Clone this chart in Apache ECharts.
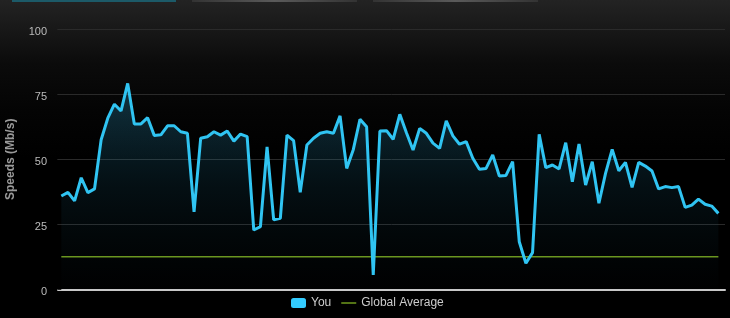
<!DOCTYPE html>
<html><head><meta charset="utf-8">
<script src="https://cdn.jsdelivr.net/npm/echarts@6/dist/echarts.min.js"></script>
<style>html,body{margin:0;padding:0;background:#000}#c{width:730px;height:318px}</style>
</head><body><div id="c"></div>
<script>
const yTicks = [0, 25, 50, 75, 100];
const yourSpeeds = [
  35.9, 37.3, 34.0, 42.9, 37.2, 38.6, 57.5, 65.8, 71.2, 68.6,
  79.2, 63.6, 63.6, 66.0, 59.2, 59.4, 62.9, 62.9, 60.6, 60.0,
  29.8, 58.1, 58.7, 60.6, 59.3, 60.9, 57.0, 59.7, 58.7, 22.8,
  24.1, 54.8, 26.7, 27.3, 59.3, 57.2, 37.3, 55.5, 58.1, 60.0,
  60.6, 60.0, 66.7, 46.5, 53.8, 65.4, 62.5, 5.5, 60.9, 61.0,
  57.7, 67.3, 60.2, 53.6, 61.9, 60.0, 56.2, 54.2, 64.8, 59.0,
  55.8, 56.8, 50.4, 46.2, 46.5, 51.7, 43.6, 43.8, 49.1, 18.3,
  10.0, 14.1, 59.6, 46.8, 47.8, 46.3, 56.4, 41.4, 55.9, 40.1,
  49.1, 33.1, 44.6, 53.8, 45.6, 48.8, 39.2, 48.8, 47.4, 45.5,
  38.6, 39.5, 39.1, 39.5, 31.5, 32.4, 34.7, 32.7, 32.0, 29.2
];
const globalAverage = 12.5;
const seriesNames = ['You', 'Global Average'];

const chart = echarts.init(document.getElementById('c'), null, {renderer: 'canvas'});
const font = '"Liberation Sans", Arial, sans-serif';
chart.setOption({
  backgroundColor: new echarts.graphic.LinearGradient(0, 0, 0, 1, [
    {offset: 0, color: '#232323'},
    {offset: 0.1, color: '#171717'},
    {offset: 0.2, color: '#0b0b0b'},
    {offset: 0.35, color: '#040404'},
    {offset: 0.5, color: '#000'},
    {offset: 1, color: '#000'}
  ]),
  animation: false,
  textStyle: {fontFamily: font},
  graphic: [
    {type: 'rect', left: 12, top: 0, shape: {width: 164, height: 2}, style: {fill: '#1c5a68'}},
    {type: 'rect', left: 192, top: 0, shape: {width: 165, height: 2},
     style: {fill: new echarts.graphic.LinearGradient(0, 0, 1, 0, [
       {offset: 0, color: '#333'}, {offset: 0.5, color: '#5a5a5a'}, {offset: 1, color: '#333'}])}},
    {type: 'rect', left: 373, top: 0, shape: {width: 165, height: 2},
     style: {fill: new echarts.graphic.LinearGradient(0, 0, 1, 0, [
       {offset: 0, color: '#333'}, {offset: 0.5, color: '#5a5a5a'}, {offset: 1, color: '#333'}])}}
  ],
  grid: {left: 58, right: 5, top: 29.3, bottom: 28.7, containLabel: false, outerBoundsMode: 'none'},
  legend: {
    left: 286, top: 292,
    itemWidth: 15, itemHeight: 10, itemGap: 10,
    symbolKeepAspect: true,
    textStyle: {color: '#cccccc', fontSize: 12, fontFamily: font},
    data: [
      {name: seriesNames[0], icon: 'roundRect', itemStyle: {color: '#33ccff'}},
      {name: seriesNames[1], icon: 'path://M0,0h20v2h-20z', itemStyle: {color: '#6f9a1c'}}
    ]
  },
  xAxis: {
    type: 'value', min: -0.5, max: 100,
    axisLine: {show: true, onZero: false, lineStyle: {color: '#c8c8c8', width: 2}},
    axisTick: {show: false}, axisLabel: {show: false}, splitLine: {show: false}
  },
  yAxis: {
    type: 'value', min: yTicks[0], max: yTicks[yTicks.length - 1], interval: 25,
    name: 'Speeds (Mb/s)', nameLocation: 'middle', nameGap: 41, nameRotate: 90,
    nameTextStyle: {color: '#9a9a9a', fontSize: 12, fontWeight: 'bold', fontFamily: font},
    axisLine: {show: false},
    axisTick: {show: true, length: 4, lineStyle: {color: '#2a2a2a'}},
    axisLabel: {color: '#bbbbbb', fontSize: 11, margin: 11, verticalAlign: 'top', lineHeight: 5, fontFamily: font},
    splitLine: {show: true, lineStyle: {color: '#2a2a2a', width: 1}}
  },
  series: [
    {
      name: seriesNames[0], type: 'line',
      data: yourSpeeds.map((v, i) => [i, v]),
      symbol: 'none', showSymbol: false,
      lineStyle: {color: '#30c4f2', width: 3},
      itemStyle: {color: '#33ccff'},
      areaStyle: {
        color: new echarts.graphic.LinearGradient(0, 0, 0, 1, [
          {offset: 0, color: 'rgba(40,140,180,0.5)'},
          {offset: 0.5, color: 'rgba(30,110,140,0.2)'},
          {offset: 1, color: 'rgba(20,60,80,0.02)'}
        ])
      },
      z: 3
    },
    {
      name: seriesNames[1], type: 'line',
      data: yourSpeeds.map((v, i) => [i, globalAverage]),
      symbol: 'none', showSymbol: false,
      lineStyle: {color: '#6f9a1c', width: 1.5},
      itemStyle: {color: '#6f9a1c'},
      z: 2
    }
  ]
});
</script></body></html>
